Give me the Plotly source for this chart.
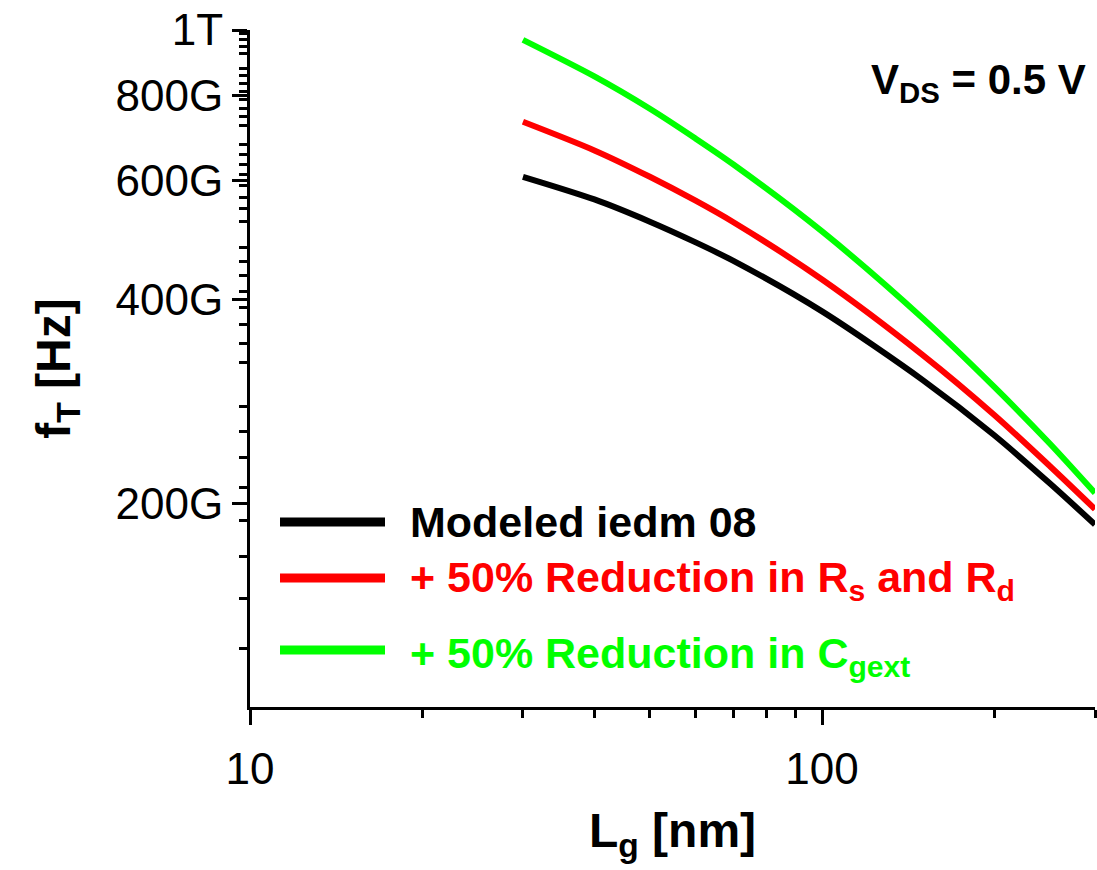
import plotly.graph_objects as go

# Gate length [nm]
lg_nm = [30, 40, 50, 60, 70, 100, 150, 200, 250, 300]

# fT [Hz]
ft_modeled = [607e9, 562e9, 521e9, 486e9, 456e9, 384e9, 304e9, 252e9, 214e9, 186e9]
ft_rsrd = [732e9, 664e9, 607e9, 560e9, 520e9, 428e9, 331e9, 270e9, 227e9, 196e9]
ft_cgext = [967e9, 854e9, 765e9, 692e9, 633e9, 504e9, 375e9, 297e9, 245e9, 207e9]

series_names = ["Modeled iedm 08",
                "+ 50% Reduction in R<sub>s</sub> and R<sub>d</sub>",
                "+ 50% Reduction in C<sub>gext</sub>"]
series_colors = ["#000000", "#FF0000", "#00FF00"]

y_tickvals = [200e9, 400e9, 600e9, 800e9, 1e12]
y_ticktext = ["200G", "400G", "600G", "800G", "1T"]
y_minor = [100e9 + k * 200e9 / 9 for k in range(1, 41) if k % 9 != 0 and 100e9 + k * 200e9 / 9 < 1e12]
y_minor = [v for v in y_minor if all(abs(v - t) > 1e9 for t in y_tickvals)]

x_tickvals = [10, 100]
x_ticktext = ["10", "100"]
x_minor = [20, 30, 40, 50, 60, 70, 80, 90, 200, 300]

FONT = "Liberation Sans, Arial, sans-serif"

fig = go.Figure()
for ys, name, col in zip([ft_modeled, ft_rsrd, ft_cgext], series_names, series_colors):
    fig.add_trace(go.Scatter(x=lg_nm, y=ys, mode="lines", name=name,
                             line=dict(color=col, width=6, shape="spline", smoothing=0.8),
                             showlegend=False))

# Custom legend (lines + text)
L, R, T, B = 250, 2, 30, 163
W, H = 1097, 870
pw, ph = W - L - R, H - T - B


def px(x):
    return (x - L) / pw


def py(y):
    return (H - B - y) / ph


legend_y = [522, 578, 650]
text_y = [522, 580, 656]
for yy, ty, name, col in zip(legend_y, text_y, series_names, series_colors):
    fig.add_shape(type="line", xref="paper", yref="paper",
                  x0=px(280), x1=px(385), y0=py(yy), y1=py(yy),
                  line=dict(color=col, width=9))
    fig.add_annotation(xref="paper", yref="paper", x=px(408), y=py(ty),
                       xanchor="left", yanchor="middle", showarrow=False,
                       text="<b>" + name + "</b>",
                       font=dict(family=FONT, size=43, color=col))

fig.add_annotation(xref="paper", yref="paper", x=px(1088), y=py(82),
                   xanchor="right", yanchor="middle", showarrow=False,
                   text="<b>V<sub>DS</sub> = 0.5 V</b>",
                   font=dict(family=FONT, size=42, color="black"))

fig.update_layout(
    width=W, height=H,
    margin=dict(l=L, r=R, t=T, b=B),
    paper_bgcolor="white", plot_bgcolor="white",
    font=dict(family=FONT, color="black"),
    xaxis=dict(type="log", range=[1, 2.4771], tickmode="array",
               tickvals=x_tickvals, ticktext=x_ticktext,
               showline=True, linecolor="black", linewidth=3,
               ticks="outside", ticklen=15, tickwidth=3, tickcolor="black",
               showgrid=False, zeroline=False, ticklabelstandoff=6,
               tickfont=dict(family=FONT, size=44),
               minor=dict(tickmode="array", tickvals=x_minor, ticks="outside",
                          ticklen=8, tickwidth=3, tickcolor="black", showgrid=False),
               title=dict(text="<b>L<sub>g</sub> [nm]</b>", font=dict(family=FONT, size=48),
                          standoff=22)),
    yaxis=dict(type="log", range=[11, 12], tickmode="array",
               tickvals=y_tickvals, ticktext=y_ticktext,
               showline=True, linecolor="black", linewidth=3,
               ticks="outside", ticklen=15, tickwidth=3, tickcolor="black",
               showgrid=False, zeroline=False,
               tickfont=dict(family=FONT, size=44),
               minor=dict(tickmode="array", tickvals=y_minor, ticks="outside",
                          ticklen=8, tickwidth=3, tickcolor="black", showgrid=False),
               title=dict(text="<b>f<sub>T</sub> [Hz]</b>", font=dict(family=FONT, size=48),
                          standoff=30)),
)

fig.write_html("out.html")
